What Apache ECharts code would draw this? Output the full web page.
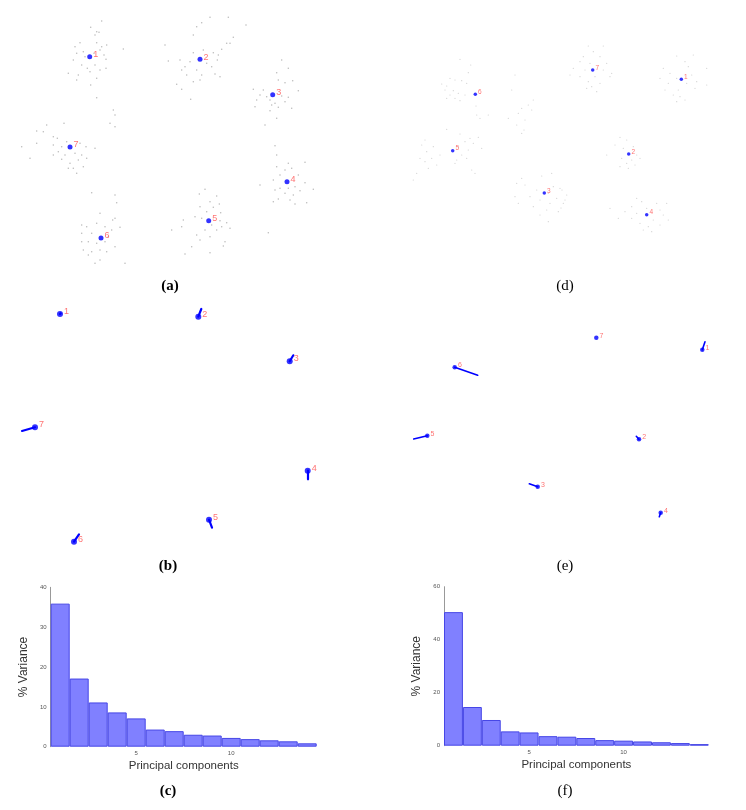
<!DOCTYPE html>
<html>
<head>
<meta charset="utf-8">
<title>Clusters and PCA variance</title>
<script src="https://cdn.jsdelivr.net/npm/echarts@6.0.0/dist/echarts.min.js"></script>
<style>
  html, body { margin: 0; padding: 0; background: #fff; }
  #main { width: 746px; height: 810px; }
</style>
</head>
<body>
<div id="main"></div>
<script>
// panel coordinates (arbitrary map units, no axes shown)
const clusterNames = ['1', '2', '3', '4', '5', '6', '7']

// (a) centroids and member points
const aCenters = [[89.7, 56.7], [200, 59.3], [272.7, 94.7], [287, 181.7], [208.7, 220.7], [101, 238], [70, 147]]
const aPoints = [
  // cluster 1
  [101.7, 21], [90.7, 27.3], [96.7, 31.7], [99, 32.3], [95, 35], [80, 42.7], [75, 46.7], [96.7, 42.7], [106.7, 45],
  [101.7, 46.7], [83.3, 51.7], [76.7, 53.3], [104, 55], [106, 59.3], [123.3, 49], [73.3, 60], [81.7, 65], [87.3, 68.3],
  [95, 65], [100, 70], [106, 68.3], [68.3, 73.3], [78.3, 75], [90, 71.7], [96.7, 78.3], [90.7, 85], [76.7, 80],
  [85, 56.7], [94, 53.3], [100, 50], [96.7, 97.7], [113.3, 110], [115, 115], [110, 123.3], [115, 126.7],
  // cluster 2
  [210, 17.3], [228.3, 17.3], [201.7, 22.7], [246, 25], [196.7, 26.7], [193.3, 35], [233.3, 37.3], [226.7, 43.3],
  [165, 45], [221.7, 49.3], [193.3, 52.7], [203.3, 50], [213.3, 52.7], [218.3, 55], [180, 60], [168.3, 61],
  [217.3, 60], [190, 61.7], [206.7, 63.3], [185, 66.7], [181.7, 70], [196.7, 70], [211.7, 66.7], [186.7, 75],
  [201.7, 75], [215, 74], [220, 76.7], [200, 80], [193.3, 81.7], [176.7, 84.3], [181.7, 89.3], [190.7, 99.3], [230, 43.3],
  // cluster 3
  [281.7, 60], [288.3, 68.3], [276.7, 72.7], [278.3, 80], [285, 82.7], [292.7, 80.7], [253.3, 89.3], [263.3, 90],
  [298.3, 90.7], [260, 95], [266.7, 96.7], [281.7, 96], [288.3, 97.3], [256.7, 100], [270, 100], [285, 101.7],
  [255, 106.7], [271.7, 105], [278.3, 107.3], [270, 110.7], [276.7, 118.3], [265, 125], [291.7, 108.3], [275, 103.3],
  // cluster 4
  [275, 145.7], [276.7, 155], [305, 162.3], [288.3, 163.3], [276.7, 166.7], [285, 170], [291.7, 168.3], [280, 175],
  [298.3, 175], [273.3, 180], [305, 182.7], [260, 185], [280, 188.3], [288.3, 188.3], [295, 186.7], [300, 190.7],
  [275, 190], [313.3, 189.3], [285, 193.3], [293.3, 195], [278.3, 199], [290, 200], [273.3, 201.7], [295, 204],
  [306.7, 202.7], [268.3, 232.7],
  // cluster 5
  [205, 189.3], [199.3, 194], [216.7, 196], [210, 201.7], [219.3, 204], [200, 206.7], [213.3, 207.3], [206.7, 211.7],
  [220.7, 212.7], [195, 216.7], [201.7, 218.3], [183.3, 220], [220, 220.7], [226.7, 222.7], [211.7, 225], [221.7, 226.7],
  [181.7, 226.7], [205, 230], [216.7, 230], [230, 228.3], [171.7, 230], [196.7, 235], [210, 236.7], [225, 241.7],
  [200, 240], [191.7, 246.7], [223.3, 246], [185, 254], [210, 252.7],
  // cluster 6
  [91.7, 192.7], [115, 195], [116.7, 202.7], [100, 213.3], [115, 218.3], [81.7, 225], [86.7, 226.7], [96.7, 223.3],
  [105, 226.7], [111.7, 230], [120, 227.3], [81.7, 233.3], [91.7, 233.3], [108.3, 236.7], [81.7, 241.7], [88.3, 241.7],
  [96.7, 243.3], [105, 241.7], [115, 246.7], [83.3, 250], [91.7, 251.7], [100, 250], [106.7, 251.7], [88.3, 255],
  [100, 260], [125, 263.3], [95, 263.3], [112.7, 220],
  // cluster 7
  [64, 123.3], [46.7, 125], [36.7, 131], [43.3, 131.7], [53.3, 136.7], [57.3, 138.3], [36.7, 143.3], [21.7, 146.7],
  [53.3, 145], [61.7, 146.7], [80, 143.3], [86, 146.7], [95, 148.3], [58.3, 151.7], [53.3, 155], [65, 155], [75, 153.3],
  [81.7, 155], [30, 158.3], [61.7, 159.3], [86.7, 158.3], [70, 163.3], [78.3, 160], [68.3, 168.3], [73.3, 168.3],
  [83.3, 166.7], [76.7, 173.3], [66.7, 141.7]
]

// (b) centroids and their shift vectors
const bCenters = [[60, 314], [198.3, 316.7], [289.7, 361.3], [307.7, 470.7], [209, 519.7], [74, 541.7], [35, 427.3]]
const bEnds = [[60.6, 313.4], [201.3, 309], [293.3, 355.3], [307.7, 479.3], [212, 527.7], [79, 534.3], [22, 431]]

// (d) centroids and member points
const dCenters = [[681.3, 79.3], [628.7, 154], [544.3, 193], [646.7, 214.7], [452.7, 150.7], [475.3, 94.3], [592.7, 70]]
const dPoints = [
  // cluster 1
  [676.7, 56], [693.3, 55], [685, 61.7], [663.3, 68.3], [688.3, 66.7], [706.7, 68.3], [670, 73.3], [691.7, 75],
  [660, 78.3], [676.7, 78.3], [696.7, 81.7], [668.3, 83.3], [686.7, 83.3], [706.7, 85], [665, 90], [678.3, 90],
  [695, 88.3], [673.3, 95], [680, 96.7], [685, 100], [676.7, 101.7],
  // cluster 2
  [620, 137.3], [626.7, 140], [615, 145], [633.3, 146.7], [623.3, 148.3], [606.7, 155], [636.7, 155], [621.7, 158.3],
  [631.7, 160], [640, 158.3], [626.7, 163.3], [635, 165], [628.3, 168.3], [620, 166.7],
  // cluster 3
  [551.7, 173.3], [541.7, 176], [521.7, 178.3], [516.7, 183.3], [525, 185], [553.3, 186.7], [560, 188.3], [536.7, 190],
  [548.3, 193.3], [566.7, 195], [515, 196.7], [530, 196.7], [556.7, 198.3], [540, 200], [518.3, 203.3], [550, 203.3],
  [563.3, 203.3], [533.3, 206.7], [546.7, 210], [558.3, 211.7], [540, 215], [548.3, 221.7], [562, 190], [565, 200], [561, 208],
  // cluster 4
  [636.7, 198.3], [641.7, 201.7], [656.7, 203.3], [666.7, 203.3], [631.7, 206.7], [646.7, 208.3], [660, 210], [610, 208.3],
  [625, 211.7], [636.7, 213.3], [663.3, 215], [618.3, 218.3], [631.7, 218.3], [653.3, 220], [668.3, 220], [640, 223.3],
  [648.3, 226.7], [660, 225], [651.7, 231.7], [643.3, 230],
  // cluster 5
  [446.7, 129.3], [460, 134], [470, 138.3], [478.3, 137.3], [425, 140], [465, 141.7], [473.3, 143.3], [421.7, 145],
  [433.3, 146.7], [458.3, 146.7], [481.7, 148.3], [468.3, 150], [426.7, 151.7], [440, 155], [461.7, 155], [420, 158.3],
  [431.7, 158.3], [456.7, 160], [466.7, 158.3], [425, 161.7], [436.7, 165], [455, 163.3], [428.3, 168.3], [471.7, 170],
  [416.7, 173.3], [413.3, 180], [475, 173.3],
  // cluster 6 and its loose tail
  [460, 59.3], [470.7, 65], [468.3, 72.7], [450, 78.3], [455, 80], [461.7, 80.7], [441.7, 84], [446.7, 86], [466.7, 83.3],
  [445, 90], [453.3, 90.7], [458.3, 93.3], [450, 95], [465, 95], [446.7, 98.3], [455, 98.3], [460, 100.7], [476, 106],
  [476.7, 115], [480, 118.3], [488.3, 115],
  [515, 75], [511.7, 90], [533.3, 100], [528.3, 105], [521.7, 108.3], [531.7, 110], [518.3, 113.3], [508.3, 118.3],
  [525, 120], [516.7, 125], [524, 130], [521.7, 133.3],
  // cluster 7
  [588.3, 46], [603.3, 46], [593.3, 51.7], [583.3, 56.7], [600, 56.7], [580, 61.7], [590, 63.3], [606.7, 63.3],
  [573.3, 68.3], [585, 70], [603.3, 70], [611.7, 73.3], [570, 75], [580, 76.7], [595, 76.7], [610, 76.7], [588.3, 81.7],
  [600, 83.3], [591.7, 86.7], [586.7, 88.3], [596.7, 91.7]
]

// (e) centroids and their shift vectors
const eCenters = [[702.3, 349.7], [639, 439.3], [537.7, 486.7], [660.7, 512.7], [427.3, 435.7], [454.7, 367.3], [596.3, 337.7]]
const eEnds = [[705, 341.7], [636.3, 436.3], [529.3, 483.7], [659.3, 516.7], [413.7, 439], [477.7, 375.3], [596.3, 337.7]]

// (c) and (f) explained variance per principal component
const pcNames = ['1', '2', '3', '4', '5', '6', '7', '8', '9', '10', '11', '12', '13', '14']
const cVariance = [35.9, 17.1, 11.1, 8.6, 7.1, 4.3, 3.9, 3.0, 2.8, 2.2, 1.9, 1.6, 1.35, 0.85]
const fVariance = [50.4, 14.6, 9.7, 5.4, 5.0, 3.6, 3.4, 2.9, 2.1, 1.9, 1.6, 1.3, 1.0, 0.6]
const cTicks = [0, 10, 20, 30, 40]
const fTicks = [0, 20, 40, 60]

// panel boxes on the page: [left, top, width, height]
const boxes = [
  [0, 0, 373, 270], // a
  [0, 290, 373, 270], // b
  [373, 0, 373, 270], // d
  [373, 290, 373, 270] // e
]

let myChart = echarts.init(document.getElementById('main'))

function named (centers) {
  return centers.map((c, i) => ({ name: clusterNames[i], value: c }))
}
function segments (centers, ends) {
  return centers.map((c, i) => ({ coords: [c, ends[i]] }))
}

let grid = boxes.map(b => ({ left: b[0], top: b[1], width: b[2], height: b[3], outerBoundsMode: 'none' }))
grid.push({ left: 50.7, top: 587.3, width: 266, height: 159.4, outerBoundsMode: 'none' })
grid.push({ left: 444, top: 586.7, width: 264.7, height: 159, outerBoundsMode: 'none' })

let xAxis = boxes.map((b, i) => ({
  type: 'value', gridIndex: i, min: b[0], max: b[0] + b[2], show: false
}))
let yAxis = boxes.map((b, i) => ({
  type: 'value', gridIndex: i, min: b[1], max: b[1] + b[3], inverse: true, show: false
}))

function barX (gi) {
  return {
    type: 'category',
    gridIndex: gi,
    data: pcNames,
    axisLine: { show: false },
    axisTick: { show: false },
    axisLabel: {
      interval: (idx) => idx === 4 || idx === 9,
      fontSize: 6,
      color: '#555',
      margin: 4
    },
    name: 'Principal components',
    nameLocation: 'middle',
    nameGap: 13,
    nameTextStyle: { fontSize: 11.5, color: '#333', fontFamily: 'Liberation Sans' }
  }
}
function barY (gi, ticks) {
  return {
    type: 'value',
    gridIndex: gi,
    min: 0,
    max: ticks[ticks.length - 1],
    interval: ticks[1] - ticks[0],
    axisLine: { show: true, lineStyle: { color: '#999', width: 1 } },
    axisTick: { show: false },
    splitLine: { show: false },
    axisLabel: { fontSize: 6, color: '#555', margin: 4 },
    name: '% Variance',
    nameLocation: 'middle',
    nameRotate: 90,
    nameGap: 21.5,
    nameTextStyle: { fontSize: 12, color: '#333', fontFamily: 'Liberation Sans' }
  }
}
xAxis.push(barX(4), barX(5))
yAxis.push(barY(4, cTicks), barY(5, fTicks))

function cloud (idx, data, size, color) {
  return {
    type: 'scatter', xAxisIndex: idx, yAxisIndex: idx, data: data,
    symbolSize: size, silent: true,
    itemStyle: { color: color }
  }
}
function dots (idx, centers, size, fontSize, offset) {
  return {
    type: 'scatter', xAxisIndex: idx, yAxisIndex: idx, data: named(centers),
    symbolSize: size, z: 5,
    itemStyle: { color: '#0000ff' },
    label: {
      show: true, position: 'right', distance: 1, offset: offset,
      formatter: '{b}', color: '#ff5050', fontSize: fontSize, fontFamily: 'Liberation Sans'
    }
  }
}
function vectors (idx, centers, ends, width) {
  return {
    type: 'lines', coordinateSystem: 'cartesian2d', xAxisIndex: idx, yAxisIndex: idx,
    data: segments(centers, ends), z: 4,
    lineStyle: { color: '#0000ff', width: width, opacity: 1, cap: 'round' }
  }
}
function bars (idx, values) {
  return {
    type: 'bar', xAxisIndex: idx, yAxisIndex: idx, data: values,
    barCategoryGap: '0%',
    itemStyle: { color: '#8080ff', borderColor: '#4646e6', borderWidth: 1 }
  }
}

function caption (text, x, y, bold) {
  return {
    type: 'text', x: x, y: y,
    style: {
      text: text, fill: '#000', fontSize: 15,
      fontFamily: 'Liberation Serif', fontWeight: bold ? 'bold' : 'normal',
      align: 'center', verticalAlign: 'middle'
    }
  }
}

myChart.setOption({
  backgroundColor: '#fff',
  animation: false,
  grid: grid,
  xAxis: xAxis,
  yAxis: yAxis,
  series: [
    cloud(0, aPoints, 1.5, '#a8a8a8'),
    dots(0, aCenters, 5, 9, [0, -2]),
    vectors(1, bCenters, bEnds, 2.2),
    dots(1, bCenters, 6, 9, [0, -2.5]),
    cloud(2, dPoints, 1.2, '#c4c4c4'),
    dots(2, dCenters, 3.5, 6.5, [0, -2]),
    vectors(3, eCenters, eEnds, 1.6),
    dots(3, eCenters, 4.5, 7, [0, -2]),
    bars(4, cVariance),
    bars(5, fVariance)
  ],
  graphic: [
    caption('(a)', 170, 286, true),
    caption('(b)', 168, 566, true),
    caption('(c)', 168, 791, true),
    caption('(d)', 565, 286, false),
    caption('(e)', 565, 566, false),
    caption('(f)', 565, 791, false)
  ]
})
</script>
</body>
</html>
